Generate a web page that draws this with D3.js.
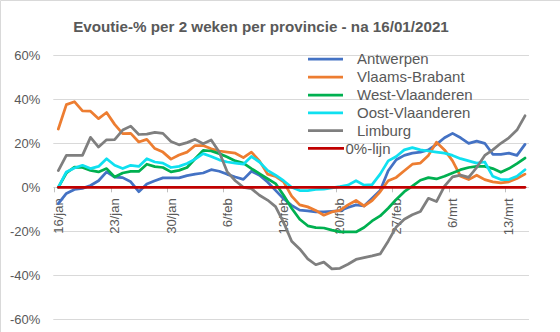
<!DOCTYPE html>
<html><head><meta charset="utf-8">
<script src="https://cdn.jsdelivr.net/npm/d3@7/dist/d3.min.js"></script>
<style>
html,body{margin:0;padding:0;background:#fff;}
svg{display:block;font-family:"Liberation Sans",Arial,sans-serif;}
</style></head>
<body>
<svg id="chart" width="560" height="332"></svg>
<script>
// ---- data ----
const startDate = new Date(2021, 0, 16);
const endDate = new Date(2021, 2, 16); // exclusive -> last day 15/mrt
const monthNames = ["jan","feb","mrt"];
const tickLabels = ["16/jan","23/jan","30/jan","6/feb","13/feb","20/feb","27/feb","6/mrt","13/mrt"];
const yTicks = [-60,-40,-20,0,20,40,60];
const seriesNames = ["Antwerpen","Vlaams-Brabant","West-Vlaanderen","Oost-Vlaanderen","Limburg","0%-lijn"];
const seriesColors = ["#4472C4","#ED7D31","#00B050","#0FE0F0","#7F7F7F","#C00000"];

const antwerpen = [-7.4,-2.8,-1,-0.5,0.8,3,7,4.6,4.4,2.5,-2,1.5,3,4.3,4.3,4.3,5.3,6,6.5,8,7.3,5.9,4.7,3.6,7.3,5.5,2.4,-1.4,-5.2,-8.2,-10.4,-10.7,-11.2,-11.2,-10.9,-10.6,-9.2,-8,-8.5,-5,-1.5,7.5,12.5,14.5,15.5,16,17,19.5,22.5,24.5,22.5,20,21,20,15,15,15.5,14.5,19.5];
const vlaamsBrabant = [26.5,37.6,38.9,34.7,34.6,31.2,34,28.6,24.4,24.5,20.6,21.8,17.6,16,12.8,14.7,16,19,19,17.5,16.5,16,15.5,13.5,16,12,6,5,2.5,-4,-8,-8.9,-10.5,-12.7,-11.2,-10.5,-8,-6,-8.5,-6,-2,3,4.5,7.5,10.5,11,14.5,20.5,17,12,5,3.5,5.5,3.5,2.5,2,2.5,4,6];
const westVlaanderen = [0,6.5,9.2,9,7.7,7,8.5,4.7,6.5,7.2,7.2,10.5,9.4,9,7,7.7,9,13,16.8,16.5,15.3,13.8,12,11,8.5,6.2,3.9,1.7,-3.6,-9.5,-14.5,-17.5,-18.3,-18.5,-19.5,-20.3,-20.3,-20.3,-18.3,-15.3,-13,-9.5,-5.5,-2,0.5,3.2,4.4,3.8,5,6.5,8,9,9.5,9.5,8.5,6.8,8.5,10.8,13.3];
const oostVlaanderen = [0,7,8.8,10,8.5,9.5,13,10,8.5,10,9.5,13,11.5,11,9,9.5,10.8,12.8,15.3,14,12.5,11.5,11,10.5,14,11.5,7.7,5.5,3,0,-1.5,-1.5,-1,-0.8,-0.3,0.3,1,3,1,1.2,6,12,14,17,18,17,16.5,16,15.5,14.5,13,12,11,11.5,5,3.5,3.5,5,8];
const limburg = [7.6,14.5,14.5,14.5,22.7,18.3,21.6,21.7,26,27.8,24,24.2,25,24.5,20.8,19.3,20.3,21.8,19.8,21.5,16,7,3,0,-0.6,-3.6,-5.8,-8.8,-16,-24.5,-28,-32.5,-35.2,-34,-37.1,-36.8,-35,-32.8,-32,-31.2,-30.3,-24.5,-18,-14.5,-12.5,-11,-5,-6.5,0.5,4.7,5.5,4.5,9,14.5,17,20,22.5,26,32.5];
const nulLijn = [0,0,0,0,0,0,0,0,0,0,0,0,0,0,0,0,0,0,0,0,0,0,0,0,0,0,0,0,0,0,0,0,0,0,0,0,0,0,0,0,0,0,0,0,0,0,0,0,0,0,0,0,0,0,0,0,0,0,0];

// ---- chart ----
const days = d3.timeDay.range(startDate, endDate);
const allSeries = [antwerpen, vlaamsBrabant, westVlaanderen, oostVlaanderen, limburg, nulLijn];
const textColor = "#595959";

const svg = d3.select("#chart");
const plotLeft = 54.3, plotRight = 529, yTop = 55.3, yBottom = 319.3;

const x = d3.scaleBand().domain(d3.range(days.length)).range([plotLeft, plotRight]).padding(0);
const xc = i => x(i) + x.bandwidth() / 2;
const y = d3.scaleLinear().domain([-60, 60]).range([yBottom, yTop]);

// outer border (top/left)
svg.append("line").attr("x1",0.5).attr("x2",560).attr("y1",0.5).attr("y2",0.5).attr("stroke","#d9d9d9");
svg.append("line").attr("x1",0.5).attr("x2",0.5).attr("y1",0.5).attr("y2",332).attr("stroke","#d9d9d9");

// title
svg.append("text").attr("x", 261).attr("y", 31.5).attr("text-anchor","middle")
  .attr("font-size", 15.2).attr("font-weight","bold").attr("fill", textColor)
  .text("Evoutie-% per 2 weken per provincie - na 16/01/2021");

// gridlines
svg.append("g").selectAll("line").data(yTicks).join("line")
  .attr("x1", plotLeft - 1).attr("x2", plotRight)
  .attr("y1", d => Math.round(y(d)) + 0.5).attr("y2", d => Math.round(y(d)) + 0.5)
  .attr("stroke", "#d9d9d9").attr("stroke-width", 1);

// y axis labels
const yAxis = d3.axisLeft(y).tickValues(yTicks).tickFormat(d => d + "%").tickSize(0).tickPadding(13);
const gy = svg.append("g").attr("transform", `translate(${plotLeft - 1},0)`).call(yAxis);
gy.select(".domain").remove();
gy.selectAll("text").attr("font-size", 13).attr("fill", textColor).attr("font-family", '"Liberation Sans",Arial,sans-serif');

// x axis: labels at category centres, tick marks at boundaries
const tickIdx = tickLabels.map((_, k) => k * 7);
const xAxis = d3.axisBottom(d3.scaleLinear().domain([0,1]).range([0,1])).tickSize(0);
const gx = svg.append("g");
gx.selectAll("line").data(tickIdx).join("line")
  .attr("x1", i => Math.round(x(i)) + 0.5).attr("x2", i => Math.round(x(i)) + 0.5)
  .attr("y1", y(0)).attr("y2", y(0) + 5)
  .attr("stroke", "#bfbfbf").attr("stroke-width", 1);
gx.selectAll("text").data(tickIdx).join("text")
  .attr("transform", (i) => `translate(${xc(i)},${y(0) + 11}) rotate(-90)`)
  .attr("text-anchor", "end").attr("dy", "0.35em")
  .attr("font-size", 13).attr("fill", textColor)
  .text((i, k) => tickLabels[k]);

// series lines
const line = d3.line().x((d, i) => xc(i)).y(d => y(d));
svg.append("g").selectAll("path").data(allSeries).join("path")
  .attr("d", d => line(d))
  .attr("fill", "none")
  .attr("stroke", (d, k) => seriesColors[k])
  .attr("stroke-width", 2.75)
  .attr("stroke-linejoin", "round")
  .attr("stroke-linecap", "round");

// legend
const legendY = [59, 77, 95, 112.8, 130.6, 148.4];
const lg = svg.append("g");
seriesNames.forEach((name, k) => {
  const isLast = k === seriesNames.length - 1;
  lg.append("line").attr("x1", 308).attr("x2", isLast ? 344 : 343)
    .attr("y1", legendY[k]).attr("y2", legendY[k])
    .attr("stroke", seriesColors[k]).attr("stroke-width", 2.75);
  lg.append("text").attr("x", isLast ? 345.5 : 357).attr("y", legendY[k] + 5.3)
    .attr("font-size", 15).attr("fill", textColor).text(name);
});
</script>
</body></html>
